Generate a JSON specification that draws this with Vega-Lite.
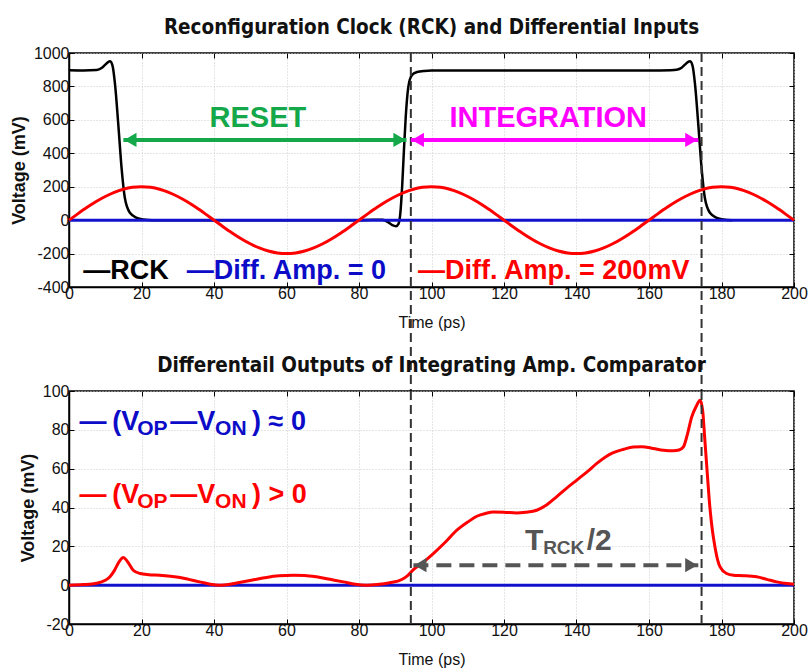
{
  "$schema": "https://vega.github.io/schema/vega-lite/v6.json",
  "autosize": {"type": "none"},
  "padding": {"left": 69, "top": 53, "right": 740, "bottom": 618},
  "background": "white",
  "spacing": 104,
  "bounds": "flush",
  "config": {
    "font": "Liberation Sans",
    "view": {"stroke": "#000", "strokeWidth": 1.5},
    "axis": {
      "labelFont": "Liberation Sans",
      "labelFontSize": 16, "labelColor": "#111",
      "labelFlush": false, "labelOverlap": false, "labelBound": false,
      "labelExpr": "datum.value + ''",
      "tickColor": "#000", "tickSize": -5, "tickWidth": 1,
      "domainColor": "#000", "domainWidth": 1.5,
      "gridColor": "#cccccc", "gridDash": [1, 2], "gridWidth": 1,
      "titleColor": "#111"
    },
    "axisX": {"labelPadding": 3, "titleFont": "Liberation Sans", "titleFontSize": 16, "titleFontWeight": "normal", "titlePadding": 13},
    "axisY": {"labelPadding": 5, "titleFont": "Liberation Sans", "titleFontSize": 18, "titleFontWeight": "bold", "titlePadding": 5},
    "title": {"font": "DejaVu Sans Condensed, Liberation Sans", "fontSize": 20.5, "fontWeight": "bold", "color": "#111", "anchor": "middle", "baseline": "alphabetic", "offset": 7}
  },
  "datasets": {
    "zero": [{"t": 0, "v": 0}, {"t": 200, "v": 0}],
    "sine": [
      {"t": 0, "v": 0}, {"t": 2.5, "v": 39.0}, {"t": 5, "v": 76.5}, {"t": 7.5, "v": 111.1}, {"t": 10, "v": 141.4}, {"t": 12.5, "v": 166.3}, {"t": 15, "v": 184.8}, {"t": 17.5, "v": 196.2}, {"t": 20, "v": 200},
      {"t": 22.5, "v": 196.2}, {"t": 25, "v": 184.8}, {"t": 27.5, "v": 166.3}, {"t": 30, "v": 141.4}, {"t": 32.5, "v": 111.1}, {"t": 35, "v": 76.5}, {"t": 37.5, "v": 39.0}, {"t": 40, "v": 0},
      {"t": 42.5, "v": -39.0}, {"t": 45, "v": -76.5}, {"t": 47.5, "v": -111.1}, {"t": 50, "v": -141.4}, {"t": 52.5, "v": -166.3}, {"t": 55, "v": -184.8}, {"t": 57.5, "v": -196.2}, {"t": 60, "v": -200},
      {"t": 62.5, "v": -196.2}, {"t": 65, "v": -184.8}, {"t": 67.5, "v": -166.3}, {"t": 70, "v": -141.4}, {"t": 72.5, "v": -111.1}, {"t": 75, "v": -76.5}, {"t": 77.5, "v": -39.0}, {"t": 80, "v": 0},
      {"t": 82.5, "v": 39.0}, {"t": 85, "v": 76.5}, {"t": 87.5, "v": 111.1}, {"t": 90, "v": 141.4}, {"t": 92.5, "v": 166.3}, {"t": 95, "v": 184.8}, {"t": 97.5, "v": 196.2}, {"t": 100, "v": 200},
      {"t": 102.5, "v": 196.2}, {"t": 105, "v": 184.8}, {"t": 107.5, "v": 166.3}, {"t": 110, "v": 141.4}, {"t": 112.5, "v": 111.1}, {"t": 115, "v": 76.5}, {"t": 117.5, "v": 39.0}, {"t": 120, "v": 0},
      {"t": 122.5, "v": -39.0}, {"t": 125, "v": -76.5}, {"t": 127.5, "v": -111.1}, {"t": 130, "v": -141.4}, {"t": 132.5, "v": -166.3}, {"t": 135, "v": -184.8}, {"t": 137.5, "v": -196.2}, {"t": 140, "v": -200},
      {"t": 142.5, "v": -196.2}, {"t": 145, "v": -184.8}, {"t": 147.5, "v": -166.3}, {"t": 150, "v": -141.4}, {"t": 152.5, "v": -111.1}, {"t": 155, "v": -76.5}, {"t": 157.5, "v": -39.0}, {"t": 160, "v": 0},
      {"t": 162.5, "v": 39.0}, {"t": 165, "v": 76.5}, {"t": 167.5, "v": 111.1}, {"t": 170, "v": 141.4}, {"t": 172.5, "v": 166.3}, {"t": 175, "v": 184.8}, {"t": 177.5, "v": 196.2}, {"t": 180, "v": 200},
      {"t": 182.5, "v": 196.2}, {"t": 185, "v": 184.8}, {"t": 187.5, "v": 166.3}, {"t": 190, "v": 141.4}, {"t": 192.5, "v": 111.1}, {"t": 195, "v": 76.5}, {"t": 197.5, "v": 39.0}, {"t": 200, "v": 0}
    ],
    "rck": [
      {"t": 0, "v": 897}, {"t": 4, "v": 896}, {"t": 7.6, "v": 898}, {"t": 9, "v": 910}, {"t": 10, "v": 930}, {"t": 10.7, "v": 944}, {"t": 11.3, "v": 950}, {"t": 12, "v": 925}, {"t": 12.7, "v": 812}, {"t": 13.6, "v": 572}, {"t": 14.5, "v": 313}, {"t": 15.4, "v": 134}, {"t": 16.8, "v": 44}, {"t": 18.7, "v": 14}, {"t": 20.5, "v": 4}, {"t": 23, "v": 0},
      {"t": 40, "v": 0}, {"t": 60, "v": 0}, {"t": 80, "v": 0}, {"t": 84, "v": 2}, {"t": 86.5, "v": 2}, {"t": 88, "v": -12}, {"t": 89.2, "v": -30}, {"t": 90.2, "v": -36}, {"t": 90.9, "v": -22}, {"t": 91.4, "v": 40}, {"t": 91.9, "v": 200}, {"t": 92.4, "v": 420}, {"t": 92.9, "v": 620}, {"t": 93.4, "v": 760}, {"t": 94, "v": 840}, {"t": 94.8, "v": 872}, {"t": 96, "v": 886}, {"t": 98, "v": 893}, {"t": 100, "v": 895},
      {"t": 130, "v": 895}, {"t": 160, "v": 895}, {"t": 166, "v": 897}, {"t": 167.6, "v": 900}, {"t": 169, "v": 912}, {"t": 170, "v": 932}, {"t": 170.7, "v": 945}, {"t": 171.3, "v": 950}, {"t": 172, "v": 925}, {"t": 172.7, "v": 812}, {"t": 173.6, "v": 572}, {"t": 174.5, "v": 313}, {"t": 175.4, "v": 134}, {"t": 176.8, "v": 44}, {"t": 178.7, "v": 14}, {"t": 180.5, "v": 4}, {"t": 183, "v": 0}
    ],
    "out": [
      {"t": 0, "v": 0}, {"t": 4, "v": 0.3}, {"t": 7.6, "v": 1}, {"t": 10, "v": 2.5}, {"t": 11.3, "v": 4.3}, {"t": 12.5, "v": 7.5}, {"t": 13.8, "v": 12}, {"t": 15, "v": 14.2}, {"t": 16, "v": 12.5}, {"t": 17.7, "v": 7.7}, {"t": 19.6, "v": 6}, {"t": 22, "v": 5.4}, {"t": 25, "v": 5.1}, {"t": 28, "v": 4.6}, {"t": 30.6, "v": 4}, {"t": 33, "v": 3}, {"t": 36, "v": 1.7}, {"t": 39, "v": 0.5}, {"t": 41.7, "v": 0},
      {"t": 44, "v": 0.3}, {"t": 47, "v": 1.4}, {"t": 51, "v": 2.8}, {"t": 54.5, "v": 4}, {"t": 58, "v": 4.8}, {"t": 62, "v": 5.1}, {"t": 65, "v": 5}, {"t": 68.3, "v": 4.3}, {"t": 72, "v": 3}, {"t": 75.7, "v": 1.7}, {"t": 79, "v": 0.5}, {"t": 82, "v": 0},
      {"t": 85, "v": 0.3}, {"t": 88.5, "v": 1.2}, {"t": 91.8, "v": 2.9}, {"t": 93.5, "v": 5}, {"t": 95, "v": 8}, {"t": 97.5, "v": 11.5}, {"t": 100.5, "v": 16.3}, {"t": 104, "v": 22.5}, {"t": 107, "v": 28.3}, {"t": 110, "v": 32.5}, {"t": 112.5, "v": 35.5}, {"t": 115, "v": 37}, {"t": 117, "v": 37.7}, {"t": 120, "v": 37.6}, {"t": 123.5, "v": 37.2}, {"t": 126, "v": 37.6}, {"t": 129, "v": 38.6},
      {"t": 131.5, "v": 41}, {"t": 134.5, "v": 45.5}, {"t": 137, "v": 49.5}, {"t": 140, "v": 54}, {"t": 143, "v": 58.5}, {"t": 145.6, "v": 62.7}, {"t": 148, "v": 66}, {"t": 150, "v": 68.1}, {"t": 153, "v": 70}, {"t": 155.7, "v": 71.2}, {"t": 158, "v": 71.3}, {"t": 161.2, "v": 70.4}, {"t": 164, "v": 69.5}, {"t": 166.7, "v": 69.2}, {"t": 168.3, "v": 69.6}, {"t": 169.5, "v": 71.2},
      {"t": 170.5, "v": 77}, {"t": 171.8, "v": 86.7}, {"t": 173, "v": 92}, {"t": 174.1, "v": 95.3}, {"t": 174.8, "v": 90}, {"t": 175.4, "v": 75}, {"t": 176.1, "v": 57}, {"t": 176.8, "v": 40}, {"t": 177.5, "v": 28}, {"t": 178.2, "v": 19.7}, {"t": 179, "v": 12.5}, {"t": 179.6, "v": 9.4}, {"t": 181.4, "v": 6}, {"t": 183.3, "v": 5.1}, {"t": 186, "v": 4.9}, {"t": 189.7, "v": 4.3}, {"t": 192.5, "v": 3}, {"t": 195.2, "v": 1.7}, {"t": 198, "v": 0.8}, {"t": 200, "v": 0.5}
    ],
    "marks": [{"t": 94.3}, {"t": 174.5}],
    "topArrows": [
      {"key": "RESET", "start": 15, "end": 93.1, "level": 480},
      {"key": "INTEGRATION", "start": 94.3, "end": 173.6, "level": 480}
    ],
    "topPhase": [
      {"key": "RESET", "text": "RESET", "t": 52.1, "v": 555},
      {"key": "INTEGRATION", "text": "INTEGRATION", "t": 132.2, "v": 555}
    ],
    "topLegend": [
      {"key": "RCK", "text": "—RCK", "t": 3.95, "v": -355},
      {"key": "Zero", "text": "—Diff. Amp. = 0", "t": 32.5, "v": -355},
      {"key": "Sine", "text": "—Diff. Amp. = 200mV", "t": 96.3, "v": -355}
    ],
    "botArrow": [{"key": "Trck", "start": 95, "end": 173.6, "level": 10.3}],
    "botMain": [
      {"key": "Zero", "text": "—", "t": 2.9, "v": 79.8},
      {"key": "Zero", "text": "(V", "t": 11.9, "v": 79.8},
      {"key": "Zero", "text": "—V", "t": 27.9, "v": 79.8},
      {"key": "Zero", "text": ") ≈ 0", "t": 50.5, "v": 79.8},
      {"key": "Sine", "text": "—", "t": 2.9, "v": 42.1},
      {"key": "Sine", "text": "(V", "t": 11.9, "v": 42.1},
      {"key": "Sine", "text": "—V", "t": 27.9, "v": 42.1},
      {"key": "Sine", "text": ") > 0", "t": 50.5, "v": 42.1}
    ],
    "botSub": [
      {"key": "Zero", "text": "OP", "t": 18.8, "v": 77.3},
      {"key": "Zero", "text": "ON", "t": 40.3, "v": 77.3},
      {"key": "Sine", "text": "OP", "t": 18.8, "v": 39.7},
      {"key": "Sine", "text": "ON", "t": 40.3, "v": 39.7}
    ],
    "trckMain": [
      {"key": "Trck", "text": "T", "t": 125.8, "v": 18},
      {"key": "Trck", "text": "/2", "t": 142.8, "v": 18}
    ],
    "trckSub": [
      {"key": "Trck", "text": "RCK", "t": 130.8, "v": 16.3}
    ]
  },
  "vconcat": [
    {
      "width": 725,
      "height": 234,
      "title": "Reconfiguration Clock (RCK) and Differential Inputs",
      "resolve": {"axis": {"x": "independent", "y": "independent"}},
      "layer": [
        {
          "data": {"name": "rck"},
          "mark": {"type": "line", "color": "#000000", "strokeWidth": 2.5, "interpolate": "monotone"},
          "encoding": {
            "x": {"field": "t", "type": "quantitative", "scale": {"domain": [0, 200], "nice": false},
                  "axis": {"title": "Time (ps)", "grid": true, "values": [0, 20, 40, 60, 80, 100, 120, 140, 160, 180, 200]}},
            "y": {"field": "v", "type": "quantitative", "scale": {"domain": [-400, 1000], "nice": false},
                  "axis": {"title": "Voltage (mV)", "grid": true, "values": [-400, -200, 0, 200, 400, 600, 800, 1000]}}
          }
        },
        {
          "data": {"name": "zero"},
          "mark": {"type": "line", "color": "#1212cc", "strokeWidth": 3},
          "encoding": {
            "x": {"field": "t", "type": "quantitative",
                  "axis": {"orient": "top", "labels": false, "title": null, "grid": false, "domain": false, "values": [0, 20, 40, 60, 80, 100, 120, 140, 160, 180, 200]}},
            "y": {"field": "v", "type": "quantitative",
                  "axis": {"orient": "right", "labels": false, "title": null, "grid": false, "domain": false, "values": [-400, -200, 0, 200, 400, 600, 800, 1000]}}
          }
        },
        {
          "data": {"name": "sine"},
          "mark": {"type": "line", "color": "#ff0000", "strokeWidth": 3, "interpolate": "monotone"},
          "encoding": {
            "x": {"field": "t", "type": "quantitative", "axis": null},
            "y": {"field": "v", "type": "quantitative", "axis": null}
          }
        },
        {
          "data": {"name": "marks"},
          "mark": {"type": "rule", "color": "#333333", "strokeWidth": 2, "strokeDash": [9, 5]},
          "encoding": {
            "x": {"field": "t", "type": "quantitative", "axis": null},
            "y": {"datum": 1000, "axis": null},
            "y2": {"datum": -1022}
          }
        },
        {
          "data": {"name": "topArrows"},
          "mark": {"type": "rule", "strokeWidth": 4},
          "encoding": {
            "x": {"field": "start", "type": "quantitative", "axis": null},
            "x2": {"field": "end"},
            "y": {"field": "level", "type": "quantitative", "axis": null},
            "color": {"field": "key", "type": "nominal", "legend": null,
                      "scale": {"domain": ["RESET", "INTEGRATION", "RCK", "Zero", "Sine", "Trck"], "range": ["#14a84a", "#ff00ff", "#000000", "#0c0cc8", "#ff0000", "#555555"]}}
          }
        },
        {
          "data": {"name": "topArrows"},
          "mark": {"type": "point", "shape": "triangle-left", "filled": true, "opacity": 1, "size": 200, "xOffset": 7},
          "encoding": {
            "x": {"field": "start", "type": "quantitative", "axis": null},
            "y": {"field": "level", "type": "quantitative", "axis": null},
            "color": {"field": "key", "type": "nominal", "legend": null}
          }
        },
        {
          "data": {"name": "topArrows"},
          "mark": {"type": "point", "shape": "triangle-right", "filled": true, "opacity": 1, "size": 200, "xOffset": -7},
          "encoding": {
            "x": {"field": "end", "type": "quantitative", "axis": null},
            "y": {"field": "level", "type": "quantitative", "axis": null},
            "color": {"field": "key", "type": "nominal", "legend": null}
          }
        },
        {
          "data": {"name": "topPhase"},
          "mark": {"type": "text", "font": "Liberation Sans", "fontWeight": "bold", "fontSize": 29, "align": "center", "baseline": "alphabetic"},
          "encoding": {
            "x": {"field": "t", "type": "quantitative", "axis": null},
            "y": {"field": "v", "type": "quantitative", "axis": null},
            "text": {"field": "text"},
            "color": {"field": "key", "type": "nominal", "legend": null}
          }
        },
        {
          "data": {"name": "topLegend"},
          "mark": {"type": "text", "font": "Liberation Sans", "fontWeight": "bold", "fontSize": 27, "align": "left", "baseline": "alphabetic"},
          "encoding": {
            "x": {"field": "t", "type": "quantitative", "axis": null},
            "y": {"field": "v", "type": "quantitative", "axis": null},
            "text": {"field": "text"},
            "color": {"field": "key", "type": "nominal", "legend": null}
          }
        }
      ]
    },
    {
      "width": 725,
      "height": 233,
      "title": "Differentail Outputs of Integrating Amp. Comparator",
      "resolve": {"axis": {"x": "independent", "y": "independent"}},
      "layer": [
        {
          "data": {"name": "zero"},
          "mark": {"type": "line", "color": "#1212cc", "strokeWidth": 3},
          "encoding": {
            "x": {"field": "t", "type": "quantitative", "scale": {"domain": [0, 200], "nice": false},
                  "axis": {"title": "Time (ps)", "grid": true, "values": [0, 20, 40, 60, 80, 100, 120, 140, 160, 180, 200]}},
            "y": {"field": "v", "type": "quantitative", "scale": {"domain": [-20, 100], "nice": false},
                  "axis": {"title": "Voltage (mV)", "grid": true, "values": [-20, 0, 20, 40, 60, 80, 100]}}
          }
        },
        {
          "data": {"name": "out"},
          "mark": {"type": "line", "color": "#ff0000", "strokeWidth": 3, "interpolate": "monotone"},
          "encoding": {
            "x": {"field": "t", "type": "quantitative",
                  "axis": {"orient": "top", "labels": false, "title": null, "grid": false, "domain": false, "values": [0, 20, 40, 60, 80, 100, 120, 140, 160, 180, 200]}},
            "y": {"field": "v", "type": "quantitative",
                  "axis": {"orient": "right", "labels": false, "title": null, "grid": false, "domain": false, "values": [-20, 0, 20, 40, 60, 80, 100]}}
          }
        },
        {
          "data": {"name": "marks"},
          "mark": {"type": "rule", "color": "#333333", "strokeWidth": 2, "strokeDash": [9, 5]},
          "encoding": {
            "x": {"field": "t", "type": "quantitative", "axis": null},
            "y": {"datum": 100, "axis": null},
            "y2": {"datum": -20}
          }
        },
        {
          "data": {"name": "botArrow"},
          "mark": {"type": "rule", "strokeWidth": 4, "strokeDash": [15, 8]},
          "encoding": {
            "x": {"field": "start", "type": "quantitative", "axis": null},
            "x2": {"field": "end"},
            "y": {"field": "level", "type": "quantitative", "axis": null},
            "color": {"field": "key", "type": "nominal", "legend": null,
                      "scale": {"domain": ["RESET", "INTEGRATION", "RCK", "Zero", "Sine", "Trck"], "range": ["#14a84a", "#ff00ff", "#000000", "#0c0cc8", "#ff0000", "#555555"]}}
          }
        },
        {
          "data": {"name": "botArrow"},
          "mark": {"type": "point", "shape": "triangle-left", "filled": true, "opacity": 1, "size": 200, "xOffset": 7},
          "encoding": {
            "x": {"field": "start", "type": "quantitative", "axis": null},
            "y": {"field": "level", "type": "quantitative", "axis": null},
            "color": {"field": "key", "type": "nominal", "legend": null}
          }
        },
        {
          "data": {"name": "botArrow"},
          "mark": {"type": "point", "shape": "triangle-right", "filled": true, "opacity": 1, "size": 200, "xOffset": -7},
          "encoding": {
            "x": {"field": "end", "type": "quantitative", "axis": null},
            "y": {"field": "level", "type": "quantitative", "axis": null},
            "color": {"field": "key", "type": "nominal", "legend": null}
          }
        },
        {
          "data": {"name": "botMain"},
          "mark": {"type": "text", "font": "Liberation Sans", "fontWeight": "bold", "fontSize": 27, "align": "left", "baseline": "alphabetic"},
          "encoding": {
            "x": {"field": "t", "type": "quantitative", "axis": null},
            "y": {"field": "v", "type": "quantitative", "axis": null},
            "text": {"field": "text"},
            "color": {"field": "key", "type": "nominal", "legend": null}
          }
        },
        {
          "data": {"name": "botSub"},
          "mark": {"type": "text", "font": "Liberation Sans", "fontWeight": "bold", "fontSize": 21, "align": "left", "baseline": "alphabetic"},
          "encoding": {
            "x": {"field": "t", "type": "quantitative", "axis": null},
            "y": {"field": "v", "type": "quantitative", "axis": null},
            "text": {"field": "text"},
            "color": {"field": "key", "type": "nominal", "legend": null}
          }
        },
        {
          "data": {"name": "trckMain"},
          "mark": {"type": "text", "font": "Liberation Sans", "fontWeight": "bold", "fontSize": 30, "align": "left", "baseline": "alphabetic"},
          "encoding": {
            "x": {"field": "t", "type": "quantitative", "axis": null},
            "y": {"field": "v", "type": "quantitative", "axis": null},
            "text": {"field": "text"},
            "color": {"field": "key", "type": "nominal", "legend": null}
          }
        },
        {
          "data": {"name": "trckSub"},
          "mark": {"type": "text", "font": "Liberation Sans", "fontWeight": "bold", "fontSize": 19, "align": "left", "baseline": "alphabetic"},
          "encoding": {
            "x": {"field": "t", "type": "quantitative", "axis": null},
            "y": {"field": "v", "type": "quantitative", "axis": null},
            "text": {"field": "text"},
            "color": {"field": "key", "type": "nominal", "legend": null}
          }
        }
      ]
    }
  ]
}
